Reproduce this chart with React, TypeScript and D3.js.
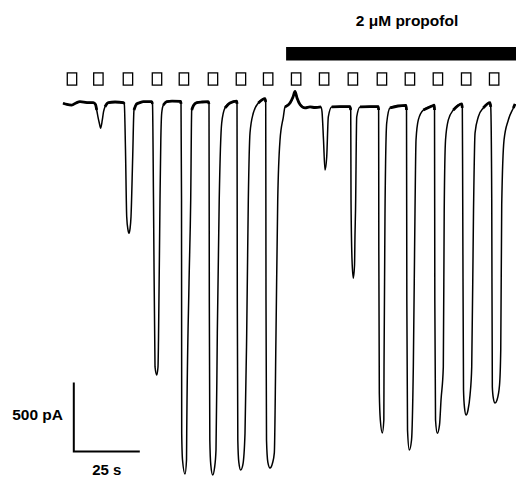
import React from "react";
import * as d3 from "d3";

// Time (s) of each agonist pulse marker
const pulseTimes = [3.4, 13.4, 24.6, 35.6, 45.8, 56.8, 67.4, 77.7, 88.3, 98.9, 109.8, 120.8, 131.4, 142.0, 152.7, 163.3];

// Propofol application window (s)
const propofolStart = 84.5;
const propofolLabel = "2 μM propofol";

// Recorded current trace: time (s)
const traceTime = [
  0, 1.52, 3.3, 4.92, 6.44, 9.09, 11.48, 12.31, 12.77, 13.26, 13.75, 14.28, 14.89, 15.34, 15.91, 17.16, 19.7, 22.84,
  23.22, 23.67, 24.13, 24.62, 25.0, 25.38, 25.76, 26.4, 26.89, 27.92, 29.17, 30.42, 33.6,
  33.9, 34.28, 34.85, 35.49, 35.98, 36.17, 36.74, 37.05, 37.39, 37.99, 39.28, 41.29, 44.58,
  44.7, 44.89, 44.96, 45.27, 46.21, 46.78, 46.86, 47.73, 48.37, 48.75, 49.43, 50.64, 52.65, 55.04,
  55.3, 55.42, 55.61, 55.98, 56.7, 57.39, 57.95, 58.45, 59.17, 60.11, 61.36, 63.26, 65.8,
  65.91, 66.02, 66.21, 66.59, 67.31, 68.11, 68.94, 69.58, 70.19, 70.83, 72.08, 73.98, 76.52,
  76.78, 76.89, 77.08, 77.58, 78.41, 79.36, 80.04, 80.68, 81.33, 82.2, 83.45, 84.09, 85.98, 87.12, 87.88, 88.64, 89.77, 91.67, 93.56, 95.45, 97.73,
  98.11, 98.67, 99.24, 99.89, 100.49, 101.78, 104.92, 108.71,
  108.98, 109.09, 109.47, 109.96, 110.42, 110.61, 110.8, 111.25, 112.5, 116.29, 119.43,
  119.55, 119.62, 119.81, 120.19, 120.95, 121.52, 121.59, 121.97, 122.61, 123.86, 126.89, 129.92,
  130.11, 130.23, 130.49, 131.17, 132.01, 132.69, 133.33, 133.71, 134.58, 136.48, 140.27, 140.64,
  140.72, 140.83, 141.1, 141.78, 142.61, 143.18, 144.05, 144.39, 144.89, 145.95, 147.84, 151.02,
  151.25, 151.4, 151.7, 152.08, 152.65, 153.41, 154.17, 154.81, 155.49, 156.06, 157.31, 159.2, 161.74,
  162.01, 162.39, 162.61, 162.99, 163.64, 164.39, 165.34, 165.8, 166.17, 167.05, 168.67, 170.57, 171.21,
];

// Recorded current trace: current (pA)
const traceCurrent = [
  -9, -18, -22, -7, 2, -4, -5, -18, -58, -109, -152, -190, -130, -72, -34, -5, 0, -4,
  -14, -348, -831, -927, -951, -920, -831, -396, -58, -14, -4, 2, 2,
  -14, -710, -1918, -1978, -1920, -1725, -710, -275, -80, -22, 2, 7, 4,
  -14, -710, -2398, -2594, -2696, -2594, -2398, -1312, -710, -58, -25, -5, 0, 2,
  -14, -1435, -2449, -2630, -2703, -2652, -2522, -1674, -710, -152, -43, -7, 7,
  -14, -1435, -2449, -2609, -2667, -2630, -2398, -1674, -710, -225, -80, -7, 25,
  0, -1435, -2449, -2609, -2652, -2616, -2543, -1674, -710, -275, -109, -36, -7, 36, 76, 29, -18, -43, -36, -40, -36,
  -72, -275, -493, -396, -107, -36, -33, -33,
  -58, -710, -1145, -1277, -1181, -949, -783, -107, -36, -33, -33,
  -58, -1072, -2109, -2304, -2398, -2304, -1918, -783, -152, -43, -29, -25,
  -58, -1435, -2377, -2522, -2449, -1918, -783, -275, -130, -58, -25, -22,
  -58, -1435, -2304, -2401, -2340, -2159, -1918, -783, -275, -130, -58, -14,
  -43, -710, -2087, -2217, -2268, -2232, -2123, -1918, -783, -225, -107, -43, -5,
  -36, -710, -2063, -2145, -2181, -2159, -2051, -1797, -746, -275, -130, -43, -14,
];

// Scale bars
const scaleBarTime = 25; // s
const scaleBarCurrent = 500; // pA
const scaleBarTimeLabel = "25 s";
const scaleBarCurrentLabel = "500 pA";

const W = 516;
const H = 478;

export default function App() {
  const x = d3.scaleLinear().domain([0, 171.2]).range([63, 515]);
  const y = d3.scaleLinear().domain([0, -1000]).range([102, 240]);

  const pts = traceTime.map((t, i) => ({ t, c: traceCurrent[i] }));
  const line = d3
    .line<{ t: number; c: number }>()
    .x((d) => x(d.t))
    .y((d) => y(d.c))
    .curve(d3.curveMonotoneX);
  const baseLine = d3
    .line<{ t: number; c: number }>()
    .defined((d) => d.c > -65)
    .x((d) => x(d.t))
    .y((d) => y(d.c))
    .curve(d3.curveMonotoneX);

  const sbX0 = 73.8;
  const sbY0 = 451.5;
  const sbW = x(scaleBarTime) - x(0);
  const sbH = y(-scaleBarCurrent) - y(0);

  const font = "Liberation Sans, Arial, Helvetica, sans-serif";

  return (
    <svg
      width={W}
      height={H}
      style={{ position: "absolute", left: 0, top: 0, background: "#fff" }}
    >
      <rect x={0} y={0} width={W} height={H} fill="#fff" />
      <text
        x={407}
        y={26}
        textAnchor="middle"
        fontFamily={font}
        fontWeight="bold"
        fontSize={15.5}
      >
        {propofolLabel}
      </text>
      <rect x={x(propofolStart)} y={47} width={W - x(propofolStart)} height={13.5} fill="#000" />
      {pulseTimes.map((t, i) => (
        <rect
          key={i}
          x={x(t) - 4.7}
          y={72.9}
          width={9.4}
          height={12.2}
          fill="#fff"
          stroke="#000"
          strokeWidth={1.3}
        />
      ))}
      <path d={line(pts) || ""} fill="none" stroke="#000" strokeWidth={1.5} strokeLinejoin="round" />
      <path d={baseLine(pts) || ""} fill="none" stroke="#000" strokeWidth={2.8} strokeLinejoin="round" />
      <path
        d={`M${sbX0},${sbY0 - sbH}L${sbX0},${sbY0}L${sbX0 + sbW},${sbY0}`}
        fill="none"
        stroke="#000"
        strokeWidth={2}
      />
      <text
        x={63}
        y={420}
        textAnchor="end"
        fontFamily={font}
        fontWeight="bold"
        fontSize={15.5}
      >
        {scaleBarCurrentLabel}
      </text>
      <text
        x={sbX0 + sbW / 2}
        y={475}
        textAnchor="middle"
        fontFamily={font}
        fontWeight="bold"
        fontSize={15}
      >
        {scaleBarTimeLabel}
      </text>
    </svg>
  );
}
